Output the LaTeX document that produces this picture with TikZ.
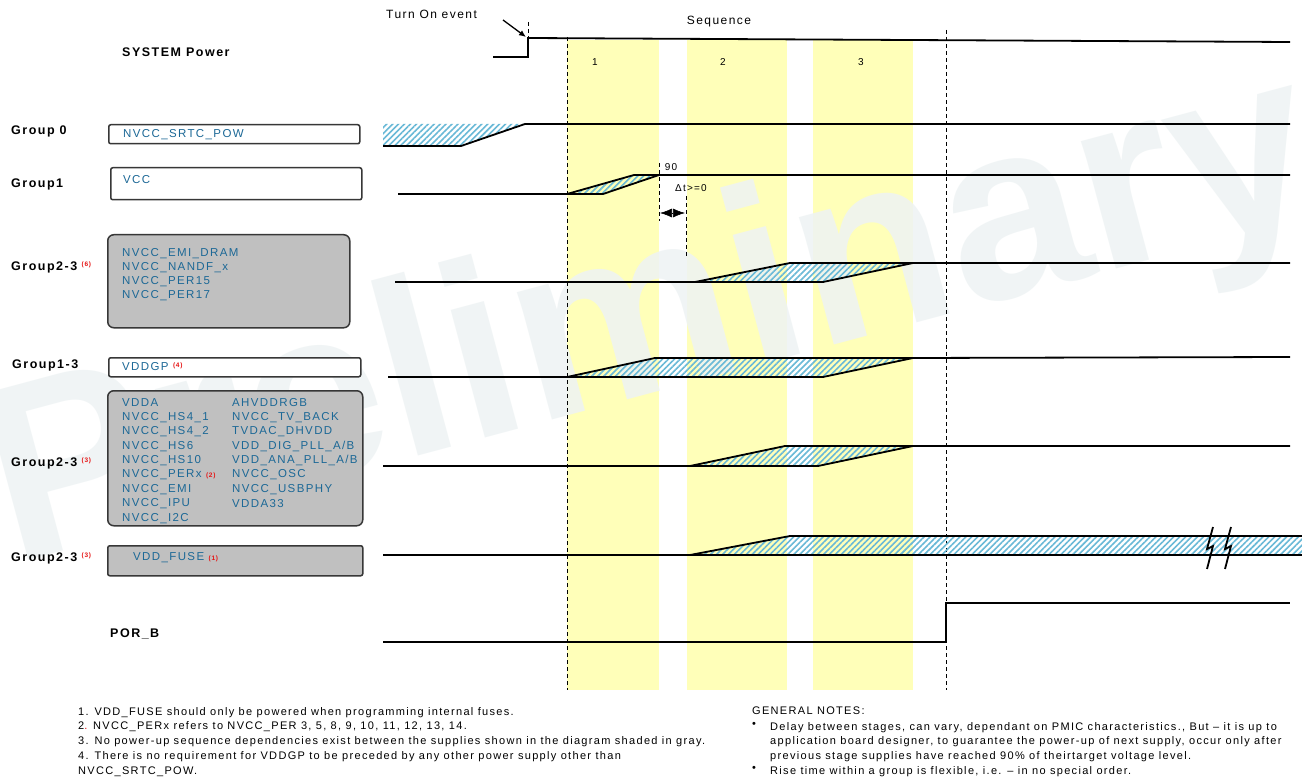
\documentclass[tikz,border=0pt]{standalone}
\usepackage{fontspec}
\setmainfont[LetterSpace=12]{Liberation Sans}
\newfontfamily\wmfont{Liberation Sans}
\usetikzlibrary{arrows.meta, patterns.meta, positioning}
\definecolor{bandyellow}{RGB}{255,255,185}
\definecolor{sigblue}{RGB}{28,104,150}
\definecolor{hatchblue}{RGB}{105,185,215}
\definecolor{boxgray}{RGB}{192,192,192}
\definecolor{boxline}{RGB}{55,55,55}
\definecolor{notered}{RGB}{230,20,20}
\definecolor{wmark}{RGB}{238,243,244}

\tikzset{
  wave/.style={line width=1.8pt, line join=miter},
  hatch/.style={pattern={Lines[angle=45, distance=4.2pt, line width=1.6pt]}, pattern color=hatchblue},
  seqline/.style={dash pattern=on 4pt off 3pt, line width=0.8pt},
  grplabel/.style={anchor=west, inner sep=0pt, font=\bfseries\fontsize{12.5}{14}\selectfont},
  railbox/.style={draw=boxline, line width=1.5pt, rounded corners=2pt, fill=white, anchor=north west, inner sep=0pt},
  railgray/.style={railbox, fill=boxgray, rounded corners=6pt},
  railtext/.style={anchor=west, inner sep=0pt, text=sigblue, font=\fontsize{11.5}{12}\selectfont},
  noteref/.style={anchor=west, inner sep=0pt, text=notered, font=\bfseries\fontsize{6.5}{7}\selectfont},
  small/.style={inner sep=0pt, font=\fontsize{12}{13}\selectfont},
  tiny/.style={inner sep=0pt, font=\fontsize{10}{11}\selectfont},
  notes/.style={anchor=north west, inner sep=0pt, align=left, font=\fontsize{11}{14.8}\selectfont},
}

\begin{document}
\begin{tikzpicture}[x=1pt, y=-1pt]
  \useasboundingbox (0,0) rectangle (1302,778);
  \fill[white] (0,0) rectangle (1302,778);

  % ===== Stages (yellow bands) =====
  \foreach \xa/\xb/\xn/\num in {567/659/595/1, 687/787/723/2, 813/913/861/3} {
    \fill[bandyellow] (\xa,40) rectangle (\xb,690);
    \node[tiny] (stage\num) at (\xn,62) {\num};
  }

  % watermark
  \node[rotate=15, anchor=base west, text=wmark, opacity=0.85, inner sep=0pt,
        font=\wmfont\bfseries\fontsize{250}{250}\selectfont] (wmark) at (12,565) {Preliminary};

  % sequence limits
  \draw[seqline] (567,37) -- (567,690);
  \draw[seqline] (946,30) -- (946,690);
  \draw[seqline] (528,22) -- (528,58);
  \node[small] (seq) at (719,22) {Sequence};

  % ===== SYSTEM Power =====
  \node[grplabel] (lsys) at (122,52) {SYSTEM Power};
  \draw[wave] (493,57) -- (528,57) -- (528,38) -- (1290,42);
  \node[small, anchor=west] (turnon) at (386,14) {Turn On event};
  \coordinate (tonfrom) at (503,20);
  \coordinate (tonto) at (526,37);
  \draw[-{Latex[length=7pt, width=6pt]}, line width=1.3pt] (tonfrom) -- (tonto);

  % ===== Group 0 =====
  \node[grplabel] (lg0) at (11,131) {Group 0};
  \node[railbox, minimum width=251pt, minimum height=19pt] (bg0) at (108,124) {};
  \node[railtext, right=15pt of bg0.west] (tg0) {NVCC\_SRTC\_POW};
  \fill[hatch] (383,124) -- (525,124) -- (461,146) -- (383,146) -- cycle;
  \draw[wave] (383,146) -- (461,146) -- (525,124) -- (1290,124);

  % ===== Group1 =====
  \node[grplabel] (lg1) at (11,184) {Group1};
  \node[railbox, minimum width=251pt, minimum height=32pt] (bg1) at (110,167) {};
  \node[railtext] (tg1) at (123,180) {VCC};
  \fill[hatch] (567,194) -- (634,175) -- (659,175) -- (603,194) -- cycle;
  \draw[wave] (398,194) -- (567,194) -- (634,175) -- (1290,175);
  \draw[wave] (567,194) -- (603,194) -- (659,175);

  % 90% point and delay
  \draw[seqline] (659,163) -- (659,221);
  \draw[seqline] (686,196) -- (686,256);
  \node[tiny] (ninety) at (671,167) {90};
  \node[tiny, anchor=west] (dtlbl) at (675,188) {Δt>=0};
  \coordinate (dta) at (660,213);
  \coordinate (dtb) at (685,213);
  \draw[{Latex[length=12pt, width=9pt]}-{Latex[length=12pt, width=9pt]}, line width=0.6pt] (dta) -- (dtb);

  % ===== Group2-3 (6) =====
  \node[grplabel] (lg23a) at (11,267) {Group2-3};
  \node[noteref, anchor=north west] at ([xshift=4pt]lg23a.north east) {(6)};
  \node[railgray, minimum width=242pt, minimum height=93pt] (bg23a) at (107,234) {};
  \foreach \name [count=\i from 0] in {NVCC\_EMI\_DRAM, NVCC\_NANDF\_x, NVCC\_PER15, NVCC\_PER17}
    \node[railtext] (ta-\i) at (122,{254+14*\i}) {\name};
  \fill[hatch] (695,282) -- (790,263) -- (913,263) -- (823,282) -- cycle;
  \draw[wave] (395,282) -- (823,282) -- (913,263) -- (1290,263);
  \draw[wave] (695,282) -- (790,263) -- (913,263);

  % ===== Group1-3 =====
  \node[grplabel] (lg13) at (12,365) {Group1-3};
  \node[railbox, minimum width=252pt, minimum height=19pt] (bg13) at (108,357) {};
  \node[railtext] (tg13) at (122,367) {VDDGP};
  \node[noteref, anchor=north west] at ([xshift=4pt]tg13.north east) {(4)};
  \fill[hatch] (567,377) -- (655,358) -- (913,358) -- (823,377) -- cycle;
  \draw[wave] (388,377) -- (823,377) -- (913,358) -- (1290,357);
  \draw[wave] (567,377) -- (655,358) -- (913,358);

  % ===== Group2-3 (3) =====
  \node[grplabel] (lg23b) at (11,463) {Group2-3};
  \node[noteref, anchor=north west] at ([xshift=4pt]lg23b.north east) {(3)};
  \node[railgray, minimum width=255pt, minimum height=135pt] (bg23b) at (107,390) {};
  \foreach \name [count=\i from 0] in {VDDA, NVCC\_HS4\_1, NVCC\_HS4\_2, NVCC\_HS6, NVCC\_HS10,
      NVCC\_PERx, NVCC\_EMI, NVCC\_IPU, NVCC\_I2C}
    \node[railtext] (tb-\i) at (122,{403+14.4*\i}) {\name};
  \foreach \name [count=\i from 0] in {AHVDDRGB, NVCC\_TV\_BACK, TVDAC\_DHVDD, VDD\_DIG\_PLL\_A/B,
      VDD\_ANA\_PLL\_A/B, NVCC\_OSC, NVCC\_USBPHY, VDDA33}
    \node[railtext] (tc-\i) at (232,{403+14.4*\i}) {\name};
  \node[noteref] at ([xshift=4pt, yshift=-1pt]tb-5.east) {(2)};
  \fill[hatch] (690,466) -- (785,446) -- (913,446) -- (818,466) -- cycle;
  \draw[wave] (383,466) -- (818,466) -- (913,446) -- (1290,446);
  \draw[wave] (690,466) -- (785,446) -- (913,446);

  % ===== Group2-3 (3), VDD_FUSE =====
  \node[grplabel] (lg23c) at (11,558) {Group2-3};
  \node[noteref, anchor=north west] at ([xshift=4pt]lg23c.north east) {(3)};
  \node[railgray, rounded corners=2pt, minimum width=255pt, minimum height=30pt] (bg23c) at (107,545) {};
  \node[railtext] (tfuse) at (133,558) {VDD\_FUSE};
  \node[noteref] at ([xshift=4pt, yshift=-1pt]tfuse.east) {(1)};
  \fill[hatch] (690,555) -- (790,536) -- (1302,536) -- (1302,555) -- cycle;
  \draw[wave] (383,555) -- (1302,555);
  \draw[wave] (690,555) -- (790,536) -- (1302,536);
  % break marks
  \foreach \dx in {0,18}
    \draw[line width=1.8pt, line join=miter] ({1213+\dx},527) -- ({1207+\dx},549) -- ({1213+\dx},546) -- ({1207+\dx},569);

  % ===== POR_B =====
  \node[grplabel] (lpor) at (110,634) {POR\_B};
  \draw[wave] (383,642) -- (946,642) -- (946,603) -- (1290,603);

  % ===== Notes =====
  \node[notes] (fnotes) at (78,707) {1. VDD\_FUSE should only be powered when programming internal fuses.\\
    2\textcolor{notered}{.} NVCC\_PERx refers to NVCC\_PER 3, 5, 8, 9, 10, 11, 12, 13, 14.\\
    3. No power-up sequence dependencies exist between the supplies shown in the diagram shaded in gray.\\
    4. There is no requirement for VDDGP to be preceded by any other power supply other than\\
    NVCC\_SRTC\_POW.};
  \node[notes] (gnotes) at (752,707) {GENERAL NOTES:};
  \node[notes] (bul1) at (752,722) {•};
  \node[notes] (gnote1) at (770,722) {Delay between stages, can vary, dependant on PMIC characteristics., But – it is up to\\
    application board designer, to guarantee the power-up of next supply, occur only after\\
    previous stage supplies have reached 90\% of theirtarget voltage level.};
  \node[notes] (bul2) at (752,766) {•};
  \node[notes] (gnote2) at (770,766) {Rise time within a group is flexible, i.e. – in no special order.};
\end{tikzpicture}
\end{document}
